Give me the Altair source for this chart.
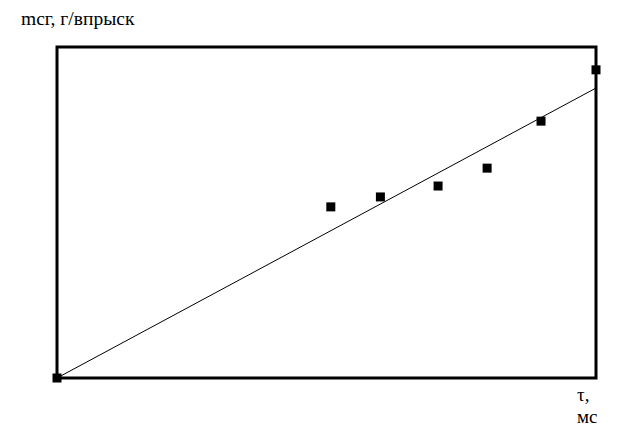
import altair as alt
import pandas as pd

# Data (tau, ms  vs  mcg, g/injection), arbitrary units
tau = [0.0, 5.08, 6.0, 7.07, 7.98, 8.98, 10.0]
mcg = [0.0, 5.17, 5.47, 5.80, 6.34, 7.76, 9.31]
fit_x = [0.0, 10.0]
fit_y = [0.0, 8.76]

y_label = "mcг, г/впрыск"
x_label = "τ,\nмс"

pts = pd.DataFrame({"tau": tau, "mcg": mcg})
fit = pd.DataFrame({"tau": fit_x, "mcg": fit_y})

xs = alt.Scale(domain=[0, 10], nice=False, zero=False)
ys = alt.Scale(domain=[0, 10], nice=False, zero=False)

line = alt.Chart(fit).mark_line(color="black", strokeWidth=1).encode(
    x=alt.X("tau:Q", scale=xs, axis=None),
    y=alt.Y("mcg:Q", scale=ys, axis=None),
)

points = alt.Chart(pts).mark_square(color="black", size=81, opacity=1).encode(
    x=alt.X("tau:Q", scale=xs, axis=None),
    y=alt.Y("mcg:Q", scale=ys, axis=None),
)

font = "Liberation Serif"
lab = pd.DataFrame({"t": [y_label]})
t1 = alt.Chart(lab).mark_text(
    font=font, fontSize=19.5, align="left", baseline="alphabetic", color="black"
).encode(x=alt.value(-36), y=alt.value(-22), text="t:N")

lab2 = pd.DataFrame({"t": [x_label]})
t2 = alt.Chart(lab2).mark_text(
    font=font, fontSize=19, align="left", baseline="alphabetic", color="black",
    lineBreak="\n", lineHeight=22,
).encode(x=alt.value(520), y=alt.value(354), text="t:N")

chart = alt.layer(line, points, t1, t2).properties(
    width=539,
    height=331,
    padding={"left": 49, "top": 39, "right": 18, "bottom": 50},
    autosize=alt.AutoSizeParams(type="none"),
    background="white",
).configure_view(stroke="black", strokeWidth=3)

chart.save("out.html", embed_options={"renderer": "svg", "actions": False})
